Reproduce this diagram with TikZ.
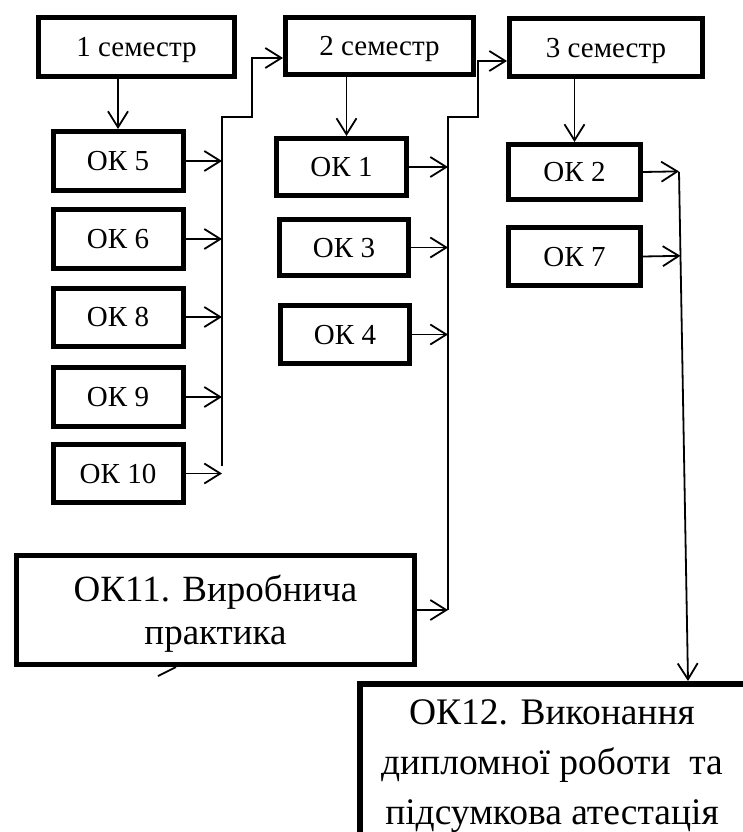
\documentclass[tikz,border=0pt]{standalone}
\usepackage{fontspec}
\setmainfont{Liberation Serif}
\usetikzlibrary{arrows.meta,calc}
\begin{document}
\begin{tikzpicture}[x=1pt,y=-1pt,
  box/.style={draw,line width=5pt,inner sep=0pt,text depth=0pt},
  small/.style={font=\fontsize{29}{34}\selectfont},
  big/.style={font=\fontsize{37}{43}\selectfont},
  arr/.style={line width=1.8pt,-{Straight Barb[length=16pt,width=20pt]}},
  bus/.style={line width=1.8pt}]
\useasboundingbox (0,0) rectangle (743,832);
% semesters
\node[box,small,minimum width=196pt,minimum height=59pt] (s1) at (136.5,47) {1 семестр};
\node[box,small,minimum width=188pt,minimum height=57pt] (s2) at (379.5,46) {2 семестр};
\node[box,small,minimum width=193pt,minimum height=58pt] (s3) at (606,47.5) {3 семестр};
% column 1
\node[box,small,minimum width=130pt,minimum height=59pt] (ok5) at (118,161) {ОК 5};
\node[box,small,minimum width=130pt,minimum height=59pt] (ok6) at (118,239) {ОК 6};
\node[box,small,minimum width=130pt,minimum height=58pt] (ok8) at (118,317) {ОК 8};
\node[box,small,minimum width=130pt,minimum height=59pt] (ok9) at (118,397) {ОК 9};
\node[box,small,minimum width=130pt,minimum height=58pt] (ok10) at (118,473.5) {ОК 10};
% column 2
\node[box,small,minimum width=130pt,minimum height=57pt] (ok1) at (341.5,167) {ОК 1};
\node[box,small,minimum width=129pt,minimum height=56pt] (ok3) at (344,247.5) {ОК 3};
\node[box,small,minimum width=129pt,minimum height=58pt] (ok4) at (345,334.5) {ОК 4};
% column 3
\node[box,small,minimum width=132pt,minimum height=55pt] (ok2) at (574.5,172) {ОК 2};
\node[box,small,minimum width=132pt,minimum height=58pt] (ok7) at (574.5,256.5) {ОК 7};
% big boxes
\node[box,big,align=center,minimum width=398pt,minimum height=109pt] (ok11) at (215.5,610) {ОК11. Виробнича\\практика};
\node[box,line width=5.5pt,anchor=north west,minimum width=420pt,minimum height=200pt] (ok12) at (357,681) {};
\node[font=\fontsize{37.5}{50}\selectfont,align=center,inner sep=0pt] (ok12t) at (552,766) {ОК12. Виконання\\дипломної роботи\ \ та\\підсумкова атестація};
% semester to first subject
\draw[arr] (s1.south -| ok5.north) -- (ok5.north);
\draw[arr] ([xshift=5pt]ok1.north |- s2.south) -- ([xshift=5pt]ok1.north);
\draw[arr] (s3.south -| ok2.north) -- (ok2.north);
% bus 1
\coordinate (b1t) at (222,117);
\coordinate (b1b) at (222,466);
\coordinate (b1k) at (252,117);
\draw[arr] (b1b) -- (b1t) -- (b1k) |- ([yshift=-12pt]s2.west);
\foreach \n in {ok5,ok6,ok8,ok9,ok10}{\draw[arr] (\n.east) -- (\n.east -| b1t);}
% bus 2
\coordinate (b2t) at (448,117);
\coordinate (b2k) at (478,117);
\draw[arr] (ok11.east -| b2t) -- (b2t) -- (b2k) |- ([yshift=-13.5pt]s3.west);
\foreach \n in {ok1,ok3,ok4,ok11}{\draw[arr] (\n.east) -- (\n.east -| b2t);}
% bus 3
\coordinate (b3t) at (679,172);
\coordinate (b3b) at (688,681);
\draw[arr] (b3t) -- (b3b);
\foreach \n in {ok2,ok7}{\draw[arr] (\n.east) -- ($(b3t)!(\n.east)!(b3b)$);}
% stray stroke under OK11
\coordinate (st1) at (158,676);
\coordinate (st2) at (176,667);
\draw[bus] (st1) -- (st2);
\end{tikzpicture}
\end{document}
